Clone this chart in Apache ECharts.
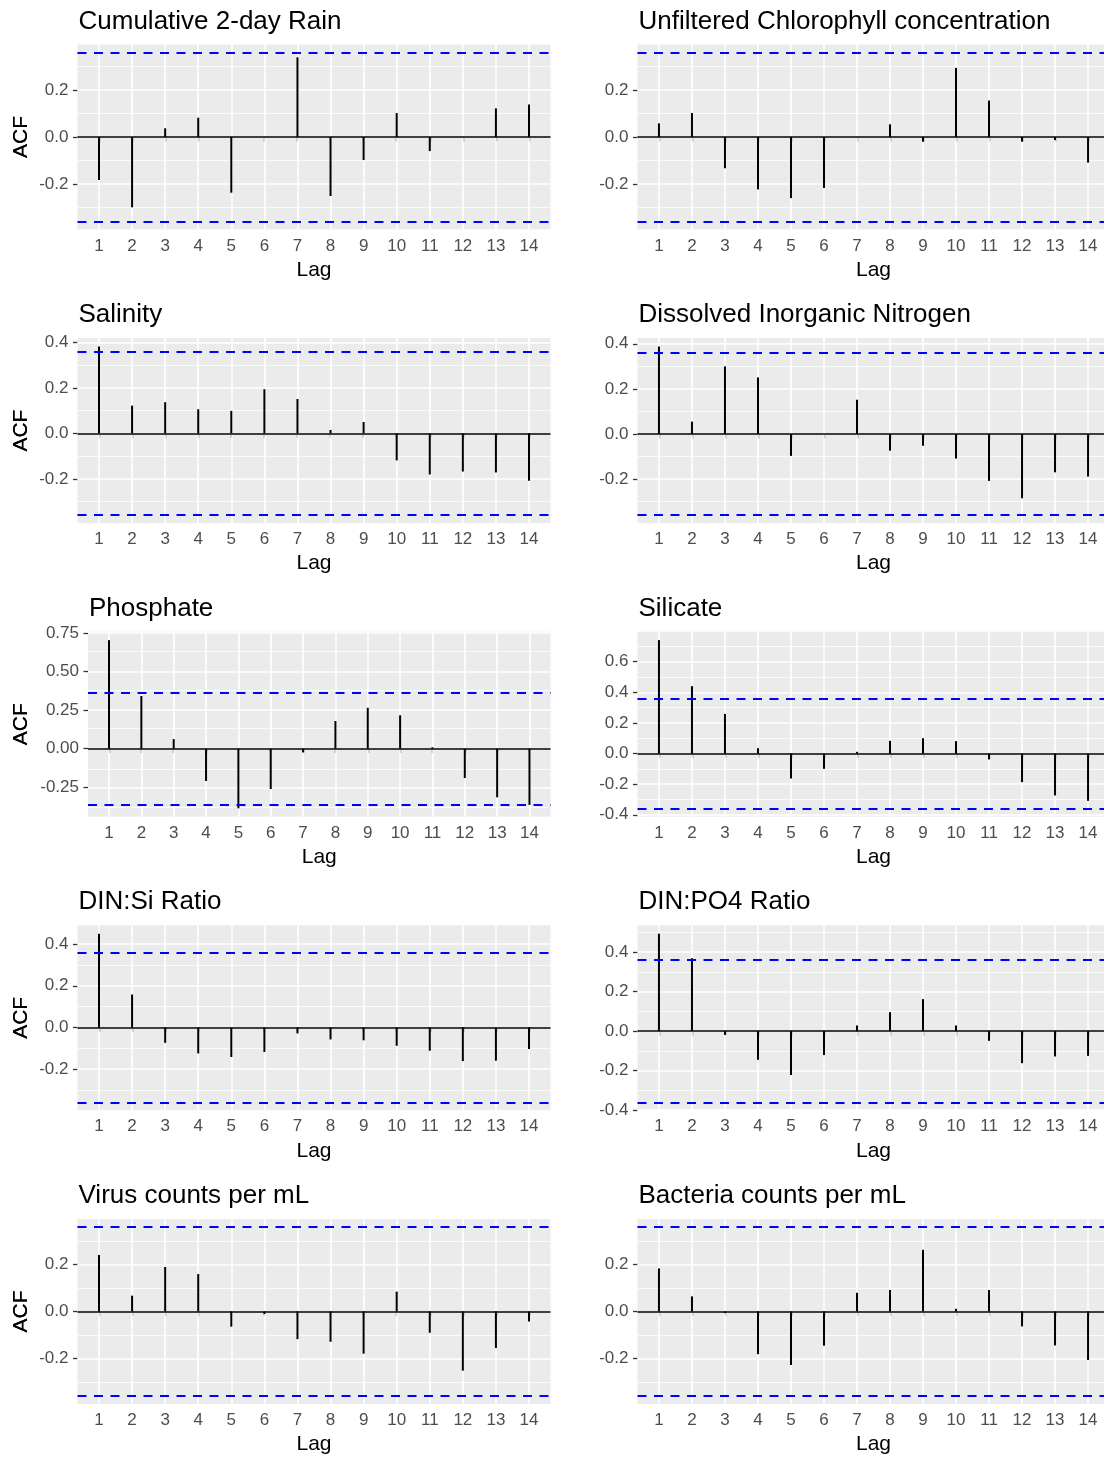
<!DOCTYPE html>
<html>
<head>
<meta charset="utf-8">
<title>ACF panels</title>
<script src="https://cdn.jsdelivr.net/npm/echarts@6/dist/echarts.min.js"></script>
<style>
  html, body { margin: 0; padding: 0; background: #fff; overflow: hidden; }
  #main { width: 1112px; height: 1457px; }
</style>
</head>
<body>
<div id="main"></div>
<script>
// lags and the 95% band (1.96 / sqrt(30))
var lags = [1, 2, 3, 4, 5, 6, 7, 8, 9, 10, 11, 12, 13, 14];
var ci = 0.3578;

// acf values
var rain      = [-0.183, -0.299, 0.037, 0.082, -0.237, 0.0, 0.339, -0.251, -0.098, 0.102, -0.060, 0.0, 0.122, 0.138];
var chl       = [0.058, 0.102, -0.133, -0.223, -0.260, -0.217, 0.0, 0.054, -0.020, 0.294, 0.155, -0.020, -0.013, -0.109];
var salinity  = [0.382, 0.122, 0.137, 0.106, 0.099, 0.194, 0.151, 0.015, 0.050, -0.119, -0.181, -0.168, -0.172, -0.209];
var din       = [0.388, 0.055, 0.300, 0.251, -0.097, 0.0, 0.152, -0.074, -0.052, -0.109, -0.208, -0.285, -0.170, -0.189];
var phosphate = [0.703, 0.341, 0.062, -0.209, -0.386, -0.261, -0.024, 0.179, 0.265, 0.216, 0.009, -0.190, -0.315, -0.364];
var silicate  = [0.741, 0.440, 0.259, 0.035, -0.163, -0.100, 0.011, 0.083, 0.100, 0.081, -0.039, -0.187, -0.274, -0.309];
var dinSi     = [0.450, 0.158, -0.074, -0.125, -0.142, -0.118, -0.029, -0.058, -0.062, -0.088, -0.112, -0.162, -0.160, -0.104];
var dinPo4    = [0.493, 0.369, -0.019, -0.145, -0.222, -0.121, 0.029, 0.096, 0.162, 0.029, -0.049, -0.162, -0.128, -0.125];
var virus     = [0.240, 0.067, 0.189, 0.159, -0.065, -0.011, -0.118, -0.129, -0.180, 0.084, -0.091, -0.252, -0.156, -0.043];
var bacteria  = [0.183, 0.064, -0.007, -0.182, -0.228, -0.146, 0.079, 0.091, 0.262, 0.011, 0.091, -0.064, -0.145, -0.207];

// y tick labels (major) and minor grid values
var ticks3  = [-0.2, 0, 0.2];
var ticks4  = [-0.2, 0, 0.2, 0.4];
var ticks5  = [-0.4, -0.2, 0, 0.2, 0.4];
var ticks6  = [-0.4, -0.2, 0, 0.2, 0.4, 0.6];
var ticksP  = [-0.25, 0, 0.25, 0.5, 0.75];
var minorA  = [-0.3, -0.1, 0.1, 0.3, 0.5, 0.7];
var minorP  = [-0.375, -0.125, 0.125, 0.375, 0.625];

var titles = ['Cumulative 2-day Rain', 'Unfiltered Chlorophyll concentration', 'Salinity',
  'Dissolved Inorganic Nitrogen', 'Phosphate', 'Silicate', 'DIN:Si Ratio', 'DIN:PO4 Ratio',
  'Virus counts per mL', 'Bacteria counts per mL'];
var series_ = [rain, chl, salinity, din, phosphate, silicate, dinSi, dinPo4, virus, bacteria];
var yTicks = [ticks3, ticks3, ticks4, ticks4, ticksP, ticks6, ticks4, ticks5, ticks3, ticks3];
var yMinor = [minorA, minorA, minorA, minorA, minorP, minorA, minorA, minorA, minorA, minorA];
var digits = [1, 1, 1, 1, 2, 1, 1, 1, 1, 1];

var FONT = '"Liberation Sans", Arial, sans-serif';
var H = 185, ROW0 = 44.5, PITCH = 293.6;

var option = { animation: false, title: [], grid: [], xAxis: [], yAxis: [], series: [] };

series_.forEach(function (acf, i) {
    var col = i % 2, row = Math.floor(i / 2);
    var left = col ? 637.5 : (i === 4 ? 88 : 77.5);
    var width = col ? 472 : 550.5 - left;
    var top = ROW0 + row * PITCH;

    // ggplot style range: data + band, padded 5%
    var lo = Math.min(-ci, Math.min.apply(null, acf));
    var hi = Math.max(ci, Math.max.apply(null, acf));
    var pad = (hi - lo) * 0.05;
    lo -= pad; hi += pad;

    option.title.push({
        text: titles[i], left: left + 1, top: top - 36, padding: 0,
        textStyle: { fontSize: 26, fontWeight: 'normal', color: '#000', fontFamily: FONT }
    });
    option.grid.push({
        left: left, top: top, width: width, height: H,
        show: true, backgroundColor: '#EBEBEB', borderWidth: 0
    });
    option.xAxis.push({
        gridIndex: i, type: 'value', min: 0.35, max: 14.65,
        axisLine: { show: false },
        axisTick: { show: true, length: 4.5, customValues: lags, lineStyle: { color: '#333', width: 1.3 } },
        axisLabel: { customValues: lags, color: '#4D4D4D', fontSize: 17, margin: 8, fontFamily: FONT },
        splitLine: { show: false },
        name: 'Lag', nameLocation: 'middle', nameGap: 30,
        nameTextStyle: { fontSize: 21, color: '#000', fontFamily: FONT }
    });
    option.yAxis.push({
        gridIndex: i, type: 'value', min: lo, max: hi,
        axisLine: { show: false },
        axisTick: { show: true, length: 4.5, customValues: yTicks[i], lineStyle: { color: '#333', width: 1.3 } },
        axisLabel: {
            customValues: yTicks[i], color: '#4D4D4D', fontSize: 17, margin: 9, fontFamily: FONT,
            formatter: (function (d) { return function (v) { return Number(v).toFixed(d); }; })(digits[i])
        },
        splitLine: { show: false },
        name: 'ACF', nameLocation: 'middle', nameGap: left - 32, nameRotate: 90,
        nameTextStyle: { fontSize: 21, color: '#000', fontFamily: FONT }
    });

    // panel grid lines
    var gl = [];
    yMinor[i].forEach(function (v) {
        if (v > lo && v < hi) gl.push({ yAxis: v, lineStyle: { color: '#fff', width: 0.8, type: 'solid' } });
    });
    yTicks[i].forEach(function (v) {
        gl.push({ yAxis: v, lineStyle: { color: '#fff', width: 1.6, type: 'solid' } });
    });
    lags.forEach(function (v) {
        gl.push({ xAxis: v, lineStyle: { color: '#fff', width: 1.6, type: 'solid' } });
    });
    option.series.push({
        type: 'line', xAxisIndex: i, yAxisIndex: i, data: [], z: 1, silent: true,
        markLine: { z: 1, silent: true, symbol: ['none', 'none'], label: { show: false }, animation: false, data: gl }
    });

    // acf spikes
    option.series.push({
        type: 'bar', xAxisIndex: i, yAxisIndex: i, barWidth: 2, z: 3, silent: true,
        itemStyle: { color: '#000' },
        data: lags.map(function (l, k) { return [l, acf[k]]; }),
        markLine: {
            z: 3, silent: true, symbol: ['none', 'none'], label: { show: false }, animation: false,
            data: [{ yAxis: 0, lineStyle: { color: '#000', width: 1.6, type: 'solid' } }]
        }
    });

    // confidence band
    option.series.push({
        type: 'line', xAxisIndex: i, yAxisIndex: i, data: [], z: 4, silent: true,
        markLine: {
            z: 6, silent: true, symbol: ['none', 'none'], label: { show: false }, animation: false,
            lineStyle: { color: '#0000FF', width: 1.8, type: [9, 7.5] },
            data: [{ yAxis: ci }, { yAxis: -ci }]
        }
    });
});

var myChart = echarts.init(document.getElementById('main'), null, { renderer: 'canvas' });
myChart.setOption(option);
</script>
</body>
</html>
